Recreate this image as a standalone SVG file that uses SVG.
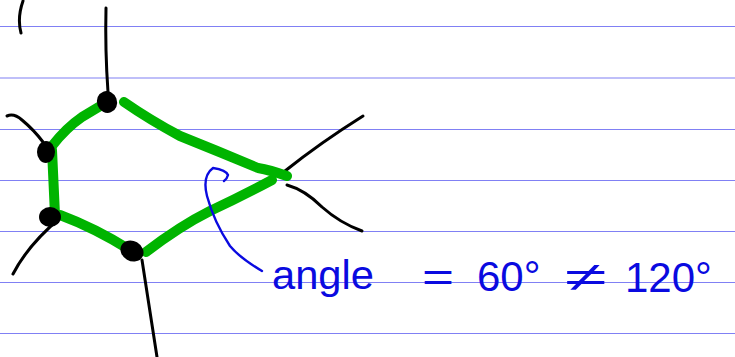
<svg xmlns="http://www.w3.org/2000/svg" width="735" height="357" viewBox="0 0 735 357">
<style>
.rule{stroke:#8080f4;stroke-width:1.2}
.edge{fill:none;stroke:#00b400;stroke-width:10;stroke-linecap:round;stroke-linejoin:round}
.stub{fill:none;stroke:#000;stroke-width:3;stroke-linecap:round}
.ink{fill:none;stroke:#0a0ae0;stroke-width:2.4;stroke-linecap:round;stroke-linejoin:round}
.note{font-family:"Liberation Sans","DejaVu Sans",sans-serif;font-size:41px;fill:#0a0ae0}
.num{font-size:42px}
.dot{fill:#000}
</style>
<rect width="735" height="357" fill="#fff"/>
<g id="paper-lines">
<line class="rule" x1="0" y1="26.5" x2="735" y2="26.5"/>
<line class="rule" x1="0" y1="78" x2="735" y2="78"/>
<line class="rule" x1="0" y1="129.5" x2="735" y2="129.5"/>
<line class="rule" x1="0" y1="180.5" x2="735" y2="180.5"/>
<line class="rule" x1="0" y1="231.5" x2="735" y2="231.5"/>
<line class="rule" x1="0" y1="282.5" x2="735" y2="282.5"/>
<line class="rule" x1="0" y1="333.5" x2="735" y2="333.5"/>
</g>
<g id="connectors">
<path class="stub" d="M23,1 Q17,18 21,33"/>
<path class="stub" d="M106,8 Q105,50 108,92"/>
<path class="stub" d="M7,116 Q14,113 22,120 Q34,130 43,142"/>
<path class="stub" d="M13,274 Q28,245 60,218"/>
<path class="stub" d="M142,260 L157,357"/>
<path class="stub" d="M285,171 Q320,143 363,116"/>
<path class="stub" d="M287,185 Q305,190 322,207 Q340,223 362,231"/>
<path class="edge" d="M107,102 L82,117 Q66,128 52,146"/>
<path class="edge" d="M52,150 L55,215"/>
<path class="edge" d="M60,215 Q95,228 130,250"/>
<path class="edge" d="M146,252 Q180,226 210,211 Q240,197 272,180"/>
<path class="edge" d="M287,176 Q270,170 258,168 Q220,152 180,136 Q150,120 124,102"/>
</g>
<g id="node-1"><ellipse class="dot" cx="107" cy="102" rx="10" ry="11" transform="rotate(-20 107 102)"/></g>
<g id="node-2"><ellipse class="dot" cx="46" cy="152" rx="9" ry="11"/></g>
<g id="node-3"><ellipse class="dot" cx="50" cy="217" rx="11" ry="10"/></g>
<g id="node-4"><ellipse class="dot" cx="132" cy="251" rx="12" ry="10" transform="rotate(30 132 251)"/></g>
<g id="annotation">
<path class="ink" d="M262,271 Q240,258 230,246 Q214,222 207,196 Q202,176 213,168 Q226,170 228,175 Q227,179 224,181"/>
<text class="note" x="272" y="289" textLength="102" lengthAdjust="spacingAndGlyphs">angle</text>
<text class="note" x="422" y="291" textLength="32" lengthAdjust="spacingAndGlyphs">=</text>
<text class="note num" x="477" y="291">60°</text>
<text class="note" x="565" y="291" textLength="42" lengthAdjust="spacingAndGlyphs">≠</text>
<text class="note num" x="625" y="292">120°</text>
</g>
</svg>
